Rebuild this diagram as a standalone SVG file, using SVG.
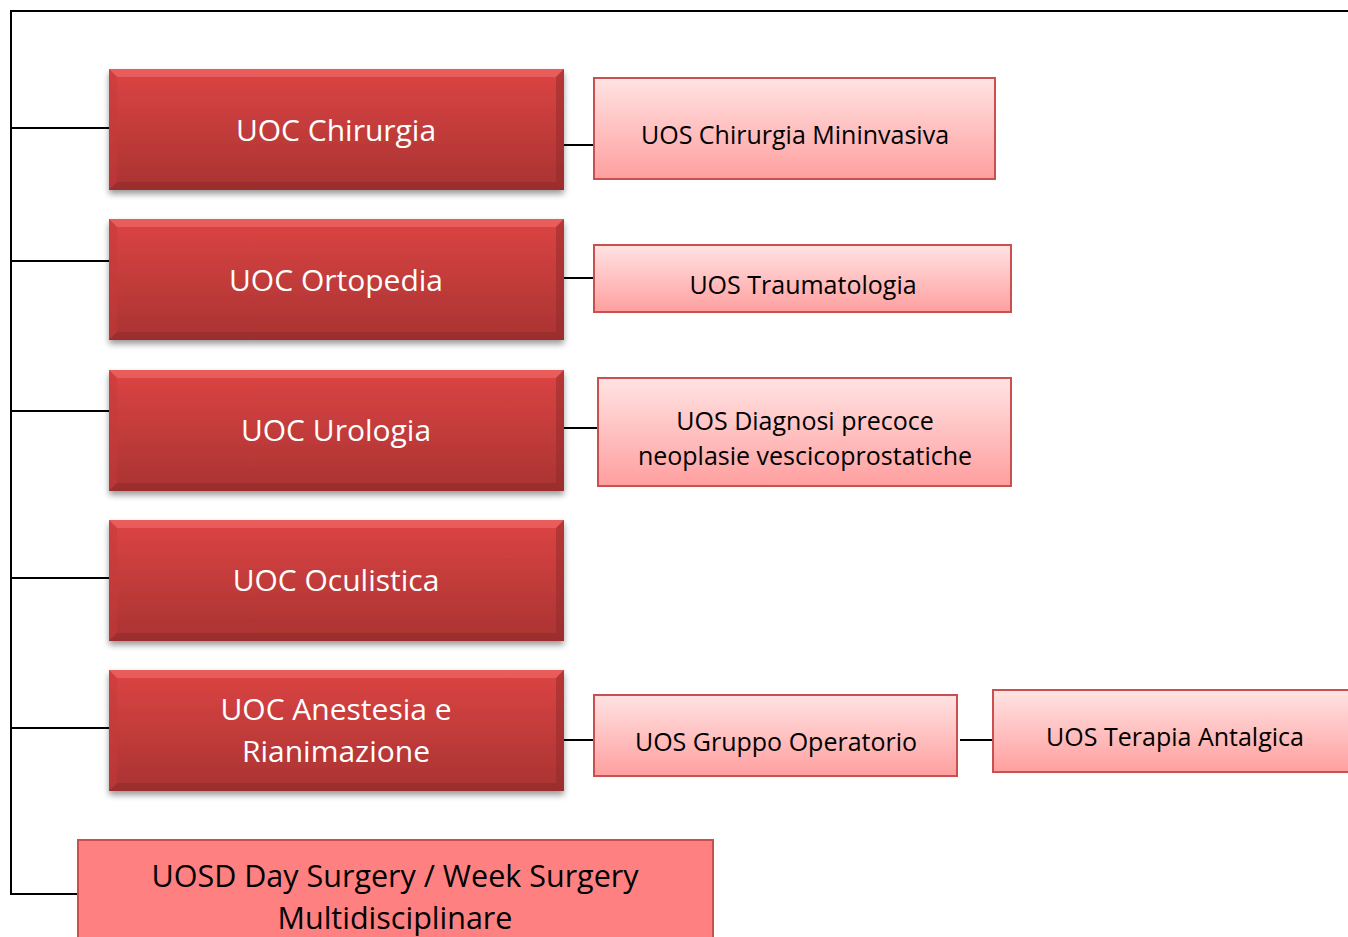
<svg xmlns="http://www.w3.org/2000/svg" width="1348" height="937" viewBox="0 0 1348 937">
<style>
.ln{stroke:#000;stroke-width:2;fill:none}
.wt{font-family:"Open Sans","Noto Sans",sans-serif;font-size:30px;fill:#fff;text-anchor:middle}
.bt{font-family:"Open Sans","Noto Sans",sans-serif;font-size:25px;fill:#000;text-anchor:middle}
.big{font-family:"Open Sans","Noto Sans",sans-serif;font-size:30.5px;fill:#000;text-anchor:middle}
.pk{fill:url(#pg);stroke:#c9504f;stroke-width:2}
</style>
<defs>
<linearGradient id="rg" x1="0" y1="0" x2="0" y2="1">
<stop offset="0" stop-color="#dc4443"/>
<stop offset="1" stop-color="#a93332"/>
</linearGradient>
<linearGradient id="pg" x1="0" y1="0" x2="0" y2="1">
<stop offset="0" stop-color="#ffe3e3"/>
<stop offset="1" stop-color="#ff9f9f"/>
</linearGradient>
<filter id="sh" x="-5%" y="-10%" width="110%" height="130%">
<feGaussianBlur in="SourceAlpha" stdDeviation="3"/>
<feOffset dx="0" dy="4" result="b"/>
<feComponentTransfer><feFuncA type="linear" slope="0.4"/></feComponentTransfer>
<feMerge><feMergeNode/><feMergeNode in="SourceGraphic"/></feMerge>
</filter>
<g id="rbox">
<rect x="0" y="0" width="455" height="121" fill="url(#rg)" filter="url(#sh)"/>
<polygon points="0,0 455,0 447,8 8,8" fill="#f26e6c" opacity="0.6"/>
<polygon points="0,0 8,8 8,113 0,121" fill="#c63a39" opacity="0.5"/>
<polygon points="455,0 447,8 447,113 455,121" fill="#8f2a29" opacity="0.5"/>
<polygon points="0,121 8,113 447,113 455,121" fill="#8a2827" opacity="0.45"/>
</g>
</defs>
<rect width="1348" height="937" fill="#fff"/>
<g id="connectors">
<polyline class="ln" points="1348,11 11,11 11,894 78,894"/>
<line class="ln" x1="11" y1="128" x2="109" y2="128"/>
<line class="ln" x1="11" y1="261" x2="109" y2="261"/>
<line class="ln" x1="11" y1="411" x2="109" y2="411"/>
<line class="ln" x1="11" y1="578" x2="109" y2="578"/>
<line class="ln" x1="11" y1="728" x2="109" y2="728"/>
<line class="ln" x1="564" y1="145" x2="594" y2="145"/>
<line class="ln" x1="564" y1="278" x2="594" y2="278"/>
<line class="ln" x1="564" y1="428" x2="598" y2="428"/>
<line class="ln" x1="564" y1="740" x2="594" y2="740"/>
<line class="ln" x1="960" y1="740" x2="993" y2="740"/>
</g>
<g id="uoc-chirurgia"><use href="#rbox" x="109" y="69"/><text class="wt" x="336" y="141">UOC Chirurgia</text></g>
<g id="uoc-ortopedia"><use href="#rbox" x="109" y="219"/><text class="wt" x="336" y="291">UOC Ortopedia</text></g>
<g id="uoc-urologia"><use href="#rbox" x="109" y="370"/><text class="wt" x="336" y="441">UOC Urologia</text></g>
<g id="uoc-oculistica"><use href="#rbox" x="109" y="520"/><text class="wt" x="336" y="591">UOC Oculistica</text></g>
<g id="uoc-anestesia"><use href="#rbox" x="109" y="670"/><text class="wt" x="336" y="720">UOC Anestesia e</text><text class="wt" x="336" y="762">Rianimazione</text></g>
<g id="uos-chirurgia-mininvasiva"><rect class="pk" x="594" y="78" width="401" height="101"/><text class="bt" x="795" y="144">UOS Chirurgia Mininvasiva</text></g>
<g id="uos-traumatologia"><rect class="pk" x="594" y="245" width="417" height="67"/><text class="bt" x="803" y="294">UOS Traumatologia</text></g>
<g id="uos-diagnosi"><rect class="pk" x="598" y="378" width="413" height="108"/><text class="bt" x="805" y="430">UOS Diagnosi precoce</text><text class="bt" x="805" y="465">neoplasie vescicoprostatiche</text></g>
<g id="uos-gruppo-operatorio"><rect class="pk" x="594" y="695" width="363" height="81"/><text class="bt" x="776" y="751">UOS Gruppo Operatorio</text></g>
<g id="uos-terapia-antalgica"><rect class="pk" x="993" y="690" width="360" height="82"/><text class="bt" x="1175" y="746">UOS Terapia Antalgica</text></g>
<g id="uosd-day-surgery"><rect x="78" y="840" width="635" height="105" fill="#ff8080" stroke="#c9504f" stroke-width="2"/><text class="big" x="395" y="887">UOSD Day Surgery / Week Surgery</text><text class="big" x="395" y="929">Multidisciplinare</text></g>
</svg>
